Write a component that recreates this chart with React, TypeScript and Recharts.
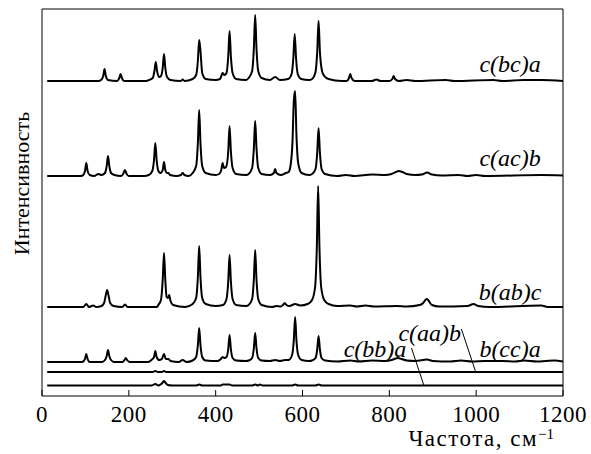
import { LineChart, Line, XAxis, YAxis, ReferenceDot, ReferenceLine } from 'recharts'

type Pt = [number, number]

const freqTicks = [0, 200, 400, 600, 800, 1000, 1200]

// spectra: [frequency, intensity above the trace's own baseline]
const bcA: Pt[] = [
  [12, 0], [130, 0], [136, 1], [141, 5], [144, 12], [147, 5], [152, 1],
  [173, 0], [178, 3], [181, 7], [184, 3], [189, 0], [240, 0],
  [247, 1], [255, 3], [259, 10], [262, 19], [265, 10], [270, 4],
  [274, 5], [278, 13], [281, 27], [284, 13], [288, 4], [296, 1],
  [320, 0], [324, 1.5], [328, 0],
  [347, 2], [355, 6], [359, 20], [362, 41], [365, 30], [369, 8], [377, 2], [400, 1],
  [410, 2], [413, 5], [416, 8], [420, 6], [425, 8], [429, 25], [432, 50], [435, 25], [439, 8], [447, 2], [470, 1],
  [476, 3], [484, 10], [488, 33], [491, 66], [494, 33], [498, 10], [506, 3],
  [525, 1], [537, 4], [548, 1],
  [567, 2], [575, 7], [579, 24], [582, 47], [585, 24], [589, 7], [597, 2], [615, 1],
  [622, 2], [630, 9], [634, 30], [637, 60], [640, 30], [645, 10], [650, 5], [660, 2],
  [690, 0], [702, 0], [707, 3], [710, 7], [713, 3], [720, 0],
  [760, 0], [770, 1.5], [780, 0], [800, 0], [807, 2], [810, 5], [813, 2], [822, 0],
  [840, 1], [860, 0], [930, 1], [950, 0], [1040, 1], [1060, 0], [1110, 1], [1150, 1], [1200, 0],
]

const acB: Pt[] = [
  [12, 0], [90, 0], [95, 1], [99, 5], [102, 13], [105, 5], [110, 1],
  [120, 0], [130, 2],
  [137, 1], [145, 3], [149, 10], [152, 20], [155, 10], [159, 3], [167, 1],
  [182, 0], [187, 2], [191, 6], [195, 2], [200, 0], [235, 0],
  [246, 1], [254, 5], [258, 16], [261, 33], [264, 16], [268, 5],
  [273, 3], [278, 6], [281, 14], [284, 6], [288, 3], [291, 3], [295, 1],
  [310, 0], [320, 1], [324, 3], [328, 1], [338, 0],
  [347, 3], [355, 10], [359, 33], [362, 66], [365, 33], [369, 10], [377, 3], [400, 1],
  [408, 2], [413, 6], [416, 13], [419, 8], [424, 9], [429, 25], [432, 50], [435, 25], [439, 8], [447, 2], [470, 1],
  [476, 2], [484, 8], [488, 28], [491, 55], [494, 28], [498, 8], [506, 2],
  [525, 1], [534, 3], [537, 7], [540, 3], [550, 1], [562, 3], [568, 4],
  [573, 12], [577, 35], [580, 75], [583, 85], [586, 42], [590, 13], [598, 3], [615, 1],
  [622, 2], [630, 7], [634, 24], [637, 48], [640, 24], [644, 7], [652, 2],
  [680, 0], [700, 1], [720, 0], [760, 1.5], [790, 1],
  [805, 2], [815, 4], [822, 5], [830, 4], [840, 2], [860, 1],
  [875, 1.5], [887, 3.5], [898, 1.5], [920, 0.5],
  [960, 1], [980, 0], [1000, 1], [1020, 0], [1150, 1], [1200, 0.5],
]

const abC: Pt[] = [
  [12, 0], [95, 0], [102, 3], [108, 0], [118, 1.5], [125, 0],
  [137, 1], [143, 4], [147, 12], [150, 17], [153, 12], [157, 4], [165, 1],
  [185, 0], [191, 2.5], [197, 0], [265, 0],
  [268, 2], [274, 7], [278, 27], [281, 54], [284, 27], [287, 10], [290, 9], [293, 12], [296, 6], [302, 2],
  [330, 0],
  [347, 3], [355, 9], [359, 30], [362, 61], [365, 30], [369, 9], [377, 3], [400, 1],
  [417, 2], [425, 8], [429, 26], [432, 52], [435, 26], [439, 8], [447, 2], [470, 1],
  [476, 2], [484, 8], [488, 28], [491, 57], [494, 28], [498, 8], [506, 2],
  [530, 0], [540, 1], [550, 0.5], [555, 2], [559, 4], [563, 2], [570, 1], [583, 3], [595, 1.5],
  [612, 3], [622, 7], [629, 20], [633, 60], [636, 121], [639, 60], [643, 20], [650, 7], [660, 3],
  [680, 1], [710, 1.5], [725, 0.5], [745, 1.5], [765, 0.5], [817, 1], [840, 0.5], [870, 2],
  [878, 4], [883, 7], [887, 8], [891, 6], [898, 2], [915, 0.5],
  [980, 1], [994, 3], [1005, 1], [1030, 0], [1150, 1.5], [1165, 0], [1200, 0],
]

const ccA: Pt[] = [
  [12, 0], [92, 0], [96, 1], [99, 3], [102, 8], [105, 3], [110, 0],
  [138, 0], [145, 2], [149, 6], [152, 12], [155, 6], [159, 2], [166, 0],
  [185, 0], [190, 2], [193, 4], [196, 2], [202, 0], [245, 0],
  [252, 2], [258, 5], [261, 11], [264, 5], [270, 2],
  [276, 3], [281, 8], [285, 3], [291, 3], [296, 1],
  [315, 0], [324, 2], [333, 0],
  [347, 1.5], [355, 5], [359, 17], [362, 34], [365, 17], [369, 5], [377, 1.5],
  [405, 1], [412, 3], [416, 5], [420, 4],
  [425, 5], [429, 13], [432, 27], [435, 13], [439, 4], [447, 1.5], [470, 1],
  [476, 1.5], [484, 4], [488, 14], [491, 29], [494, 14], [498, 4], [506, 1.5],
  [525, 1], [537, 2], [548, 1], [560, 2],
  [568, 2], [576, 7], [580, 22], [583, 45], [586, 22], [590, 7], [598, 2], [615, 1],
  [622, 1.5], [630, 4], [634, 13], [637, 26], [640, 13], [644, 4], [652, 1.5],
  [680, 0.5], [710, 1.5], [730, 0.5], [760, 1.5], [790, 1],
  [805, 2], [815, 3.5], [820, 4], [828, 3], [840, 1.5], [860, 1],
  [887, 2.5], [900, 1], [940, 0.5], [965, 1.5], [990, 0.5], [1020, 1], [1060, 1],
  [1090, 0.5], [1110, 1.5], [1140, 0.5], [1160, 1], [1180, 1.5], [1200, 0.5],
]

const aaB: Pt[] = [
  [12, 0], [255, 0], [261, 1], [267, 0], [276, 0], [281, 1], [286, 0], [1200, 0],
]

const bbA: Pt[] = [
  [12, 0], [252, 0], [261, 1.5], [268, 0], [273, 1], [278, 3], [281, 4.5], [284, 3], [290, 0.5],
  [300, 0], [355, 0], [362, 1], [369, 0], [412, 0], [416, 1], [424, 1], [432, 1], [438, 0],
  [484, 0], [491, 1], [498, 0], [502, 1], [508, 0], [576, 0], [583, 1], [590, 0],
  [630, 0], [637, 1], [644, 0], [1200, 0],
]

const traces = [
  { name: 'c(bc)a', pts: bcA, base: 315 },
  { name: 'c(ac)b', pts: acB, base: 220 },
  { name: 'b(ab)c', pts: abC, base: 89 },
  { name: 'b(cc)a', pts: ccA, base: 34 },
  { name: 'c(aa)b', pts: aaB, base: 24 },
  { name: 'c(bb)a', pts: bbA, base: 10.5 },
]

const traceLabels = [
  { text: 'c(bc)a', x: 1078, y: 333 },
  { text: 'c(ac)b', x: 1078, y: 239 },
  { text: 'b(ab)c', x: 1078, y: 105 },
  { text: 'b(cc)a', x: 1078, y: 48 },
  { text: 'c(aa)b', x: 893, y: 64 },
  { text: 'c(bb)a', x: 767, y: 48 },
]

const leaders = [
  [{ x: 966, y: 67 }, { x: 999, y: 24 }],
  [{ x: 851, y: 48 }, { x: 880, y: 10 }],
]

const serif = "'Liberation Serif', serif"

export default function App() {
  return (
    <div style={{ position: 'absolute', left: 0, top: 0, background: '#fff' }}>
      <LineChart width={591} height={454} margin={{ top: 8, right: 0, bottom: 0, left: 0 }}>
        <XAxis
          dataKey="x"
          type="number"
          domain={[0, 1200]}
          ticks={freqTicks}
          allowDataOverflow
          height={58}
          stroke="#000"
          tickSize={-6}
          tickMargin={16}
          tick={{ fontSize: 23, fill: '#000', fontFamily: serif, letterSpacing: 0.5 }}
          label={{
            content: ({ viewBox }: any) => (
              <text
                x={viewBox.x + viewBox.width - 9}
                y={viewBox.y + 50}
                textAnchor="end"
                fill="#000"
                fontFamily={serif}
                fontSize={23}
                letterSpacing={1.5}
              >
                Частота, см
                <tspan dy={-7} fontSize={15} letterSpacing={0}>−1</tspan>
              </text>
            ),
          }}
        />
        <XAxis
          xAxisId="top"
          orientation="top"
          type="number"
          domain={[0, 1200]}
          ticks={freqTicks}
          height={1}
          stroke="#000"
          tickSize={-6}
          tick={false}
        />
        <YAxis
          yAxisId="left"
          type="number"
          domain={[0, 387]}
          width={42}
          stroke="#000"
          tick={false}
          tickLine={false}
          label={{
            content: ({ viewBox }: any) => {
              const cx = viewBox.x + 21
              const cy = viewBox.y + viewBox.height / 2 - 19
              return (
                <text
                  x={cx}
                  y={cy}
                  transform={`rotate(-90 ${cx} ${cy})`}
                  textAnchor="middle"
                  dominantBaseline="central"
                  fill="#000"
                  fontFamily={serif}
                  fontSize={22}
                >
                  Интенсивность
                </text>
              )
            },
          }}
        />
        <YAxis
          yAxisId="right"
          orientation="right"
          type="number"
          domain={[0, 387]}
          width={28}
          stroke="#000"
          tick={false}
          tickLine={false}
        />
        {traces.map((t) => (
          <Line
            key={t.name}
            yAxisId="left"
            data={t.pts.map(([x, v]) => ({ x, y: t.base + v }))}
            dataKey="y"
            type="monotone"
            stroke="#000"
            strokeWidth={2}
            dot={false}
            isAnimationActive={false}
          />
        ))}
        {leaders.map((seg, i) => (
          <ReferenceLine key={i} yAxisId="left" segment={seg} stroke="#000" strokeWidth={1} />
        ))}
        {traceLabels.map((l) => (
          <ReferenceDot
            key={l.text}
            yAxisId="left"
            x={l.x}
            y={l.y}
            r={1}
            fill="none"
            stroke="none"
            label={{
              value: l.text,
              position: 'center',
              fill: '#000',
              fontSize: 24,
              fontStyle: 'italic',
              fontFamily: serif,
            }}
          />
        ))}
      </LineChart>
    </div>
  )
}
